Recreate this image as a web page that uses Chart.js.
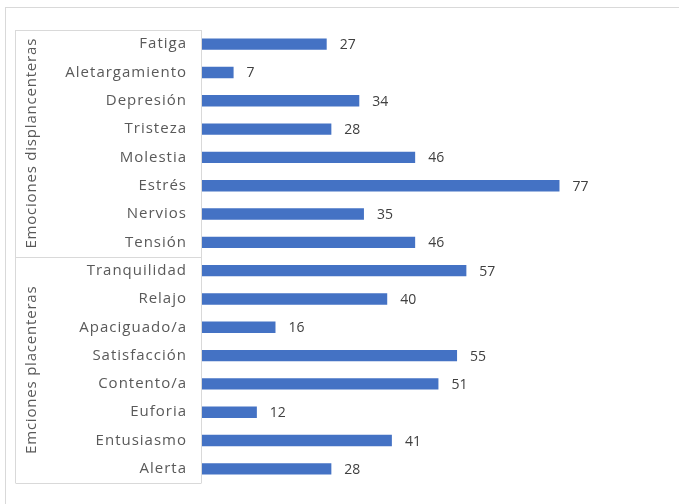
<!DOCTYPE html>
<html><head><meta charset="utf-8">
<script src="https://cdn.jsdelivr.net/npm/chart.js@4/dist/chart.umd.min.js"></script>
<style>html,body{margin:0;padding:0;background:#fff;}canvas{display:block;}</style>
</head><body>
<canvas id="c" width="679" height="504"></canvas>
<script>
const categories = ["Fatiga","Aletargamiento","Depresión","Tristeza","Molestia","Estrés","Nervios","Tensión",
  "Tranquilidad","Relajo","Apaciguado/a","Satisfacción","Contento/a","Euforia","Entusiasmo","Alerta"];
const values = [27,7,34,28,46,77,35,46,57,40,16,55,51,12,41,28];
const groupLabels = ["Emociones displancenteras","Emciones placenteras"];
const groupSizes = [8,8];

const FONT = "'Open Sans', sans-serif";
const TXT = '#595959';
const LINE = '#d9d9d9';

const decor = {
  id: 'decor',
  beforeDraw(chart){
    const ctx = chart.ctx;
    ctx.save();
    ctx.fillStyle = '#fff';
    ctx.fillRect(0,0,chart.width,chart.height);
    ctx.strokeStyle = LINE; ctx.lineWidth = 1;
    ctx.strokeRect(5.5, 7.5, 800, 600);
    ctx.restore();
    try { ctx.letterSpacing = '1px'; } catch(e) {}
  },
  afterDraw(chart){
    const ctx = chart.ctx, a = chart.chartArea;
    const xL = 15.5, xR = Math.round(a.left) + 0.5;
    const top = a.top, bot = a.bottom;
    ctx.save();
    ctx.strokeStyle = LINE; ctx.lineWidth = 1;
    ctx.beginPath();
    ctx.moveTo(xR, top); ctx.lineTo(xR, bot);
    ctx.moveTo(xL, top); ctx.lineTo(xL, bot);
    let idx = 0;
    const band = (bot - top) / categories.length;
    const bounds = [top];
    groupSizes.forEach(n => { idx += n; bounds.push(top + idx * band); });
    bounds.forEach(y => { const yy = Math.round(y) + 0.5; ctx.moveTo(xL, yy); ctx.lineTo(xR, yy); });
    ctx.stroke();
    ctx.fillStyle = TXT;
    ctx.font = "15px " + FONT;
    try { ctx.letterSpacing = '0.8px'; } catch(e) {}
    ctx.textAlign = 'center'; ctx.textBaseline = 'middle';
    for (let g = 0; g < groupLabels.length; g++) {
      const yc = (bounds[g] + bounds[g+1]) / 2;
      ctx.save();
      ctx.translate(32, yc);
      ctx.rotate(-Math.PI/2);
      ctx.fillText(groupLabels[g], 0, 0);
      ctx.restore();
    }
    const meta = chart.getDatasetMeta(0);
    ctx.fillStyle = '#404040';
    ctx.textAlign = 'left';
    ctx.font = "14px " + FONT;
    try { ctx.letterSpacing = '0px'; } catch(e) {}
    meta.data.forEach((bar, i) => {
      ctx.fillText(String(values[i]), bar.x + 13, bar.y + 1);
    });
    ctx.restore();
  }
};

new Chart(document.getElementById('c'), {
  type: 'bar',
  data: { labels: categories, datasets: [{ data: values, backgroundColor: '#4472C4', borderWidth: 0,
    categoryPercentage: 1, barPercentage: 0.4 }] },
  options: {
    indexAxis: 'y', responsive: false, animation: false,
    layout: { padding: { top: 30, bottom: 21, left: 0, right: 59 } },
    plugins: { legend: { display: false }, tooltip: { enabled: false } },
    scales: {
      x: { display: false, min: 0, max: 90 },
      y: {
        grid: { display: false }, border: { display: false },
        ticks: { color: TXT, font: { family: FONT, size: 15 }, padding: 6, autoSkip: false },
        afterFit(s){ s.width = 201; }
      }
    }
  },
  plugins: [decor]
});
</script>
</body></html>
